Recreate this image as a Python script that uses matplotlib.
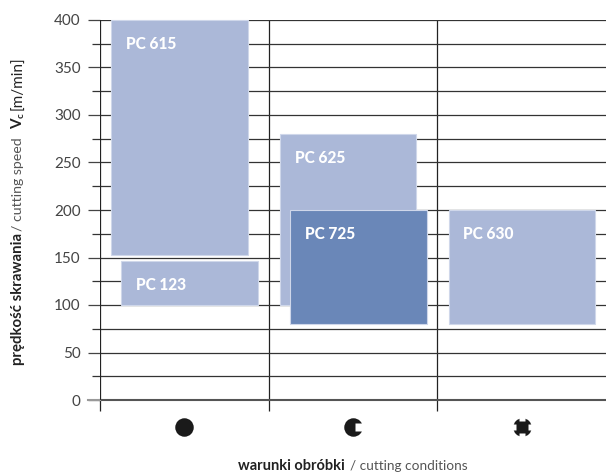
import matplotlib
matplotlib.use("Agg")
import matplotlib.pyplot as plt
from matplotlib.patches import Rectangle
from matplotlib.path import Path

plt.rcParams["font.family"] = "Lato"

grades = ["PC 615", "PC 123", "PC 625", "PC 725", "PC 630"]
speed_low = [153, 100, 100, 80, 80]
speed_high = [400, 146, 280, 200, 200]
y_major = [0, 50, 100, 150, 200, 250, 300, 350, 400]
y_minor = [25, 75, 125, 175, 225, 275, 325, 375]

# bar placement in category units
bar_left = [0.065, 0.125, 1.067, 1.126, 2.067]
bar_width = [0.812, 0.812, 0.806, 0.812, 0.87]
bar_color = ["#abb8d8", "#abb8d8", "#abb8d8", "#6a87b8", "#abb8d8"]
draw_order = [0, 1, 2, 4, 3]

W, H = 606, 475
fig = plt.figure(figsize=(W / 100, H / 100), dpi=100)
ax = fig.add_axes([100 / W, 75 / H, 506 / W, 380 / H])
ax.set_xlim(0, 3)
ax.set_ylim(0, 400)
for s in ax.spines.values():
    s.set_visible(False)

ax.set_yticks(y_major)
ax.set_yticks(y_minor, minor=True)
ax.set_xticks([0, 1, 2])
ax.set_xticklabels([])
ax.tick_params(axis="y", which="major", length=8.5, width=0.9, color="#444444",
               labelsize=11, labelcolor="#444444", pad=5.5)
ax.tick_params(axis="y", which="minor", length=5.5, width=0.9, color="#333333")
ax.tick_params(axis="x", length=8, width=0.9, color="#222222")
ax.grid(True, which="both", axis="y", color="#333333", lw=0.9, zorder=1)
ax.grid(True, which="major", axis="x", color="#222222", lw=0.9, zorder=1)
ax.axhline(0, color="#555555", lw=1.5, zorder=2, clip_on=False)
ax.plot([-12 / 168.67, 0], [0, 0], color="#999999", lw=1.5, clip_on=False, zorder=2)
ax.axvline(0, color="#222222", lw=1.3, zorder=2)
ax.set_axisbelow(True)

for z, i in enumerate(draw_order):
    ax.add_patch(Rectangle((bar_left[i], speed_low[i]), bar_width[i], speed_high[i] - speed_low[i],
                           facecolor=bar_color[i], edgecolor="#cfd7ea", lw=0.8, zorder=3 + z,
                           clip_on=False))
    ax.text(bar_left[i] + 0.088, speed_high[i] - 25, grades[i], color="white", fontsize=11.2,
            fontweight="black", va="center", ha="left", zorder=10)

# symbols under the axis
pad = Path.unit_circle()
sym_y = -28
sym_size = 18.5 * 0.72
sym_x = [0.5, 1.5, 2.5]
ax.plot(sym_x, [sym_y] * 3, ls="none", marker=pad, ms=sym_size, mfc="#1a1a1a", mec="none", clip_on=False)
notch = Path([(0.2, -0.37), (1, -0.37), (1, 0.37), (0.2, 0.37), (0.2, -0.37)])
ax.plot([1.5], [sym_y], ls="none", marker=notch, ms=20 * 0.72, mfc="white", mec="none",
        clip_on=False, zorder=5)
cross = Path([(-0.28, -1), (0.28, -1), (0.28, -0.6), (-0.28, -0.6), (-0.28, -1),
              (-0.28, 0.6), (0.28, 0.6), (0.28, 1), (-0.28, 1), (-0.28, 0.6),
              (-1, -0.28), (-0.6, -0.28), (-0.6, 0.28), (-1, 0.28), (-1, -0.28),
              (0.6, -0.28), (1, -0.28), (1, 0.28), (0.6, 0.28), (0.6, -0.28)],
             [1, 2, 2, 2, 79] * 4)
ax.plot([2.5], [sym_y], ls="none", marker=cross, ms=20 * 0.72, mfc="white", mec="none",
        clip_on=False, zorder=5)


def label(px, py, s, bold=False, rot=0, size=10, color="#222222"):
    fig.text(px / W, 1 - py / H, s, rotation=rot, fontsize=size, color=color,
             fontweight="bold" if bold else "normal",
             ha="left", va="baseline", rotation_mode="anchor")


label(238, 470, "warunki obróbki", bold=True, size=10.5)
label(350, 470, "/ cutting conditions", color="#555555", size=9.8)
label(22, 365, "prędkość skrawania", bold=True, rot=90, size=10.8)
label(22, 231, "/ cutting speed", rot=90, color="#555555", size=10.2)
label(22, 129, "V", bold=True, rot=90, size=11)
label(24, 118, "c", bold=True, rot=90, size=7)
label(22, 110, "[m/min]", rot=90, size=11)

plt.savefig("out.png", dpi=100)
